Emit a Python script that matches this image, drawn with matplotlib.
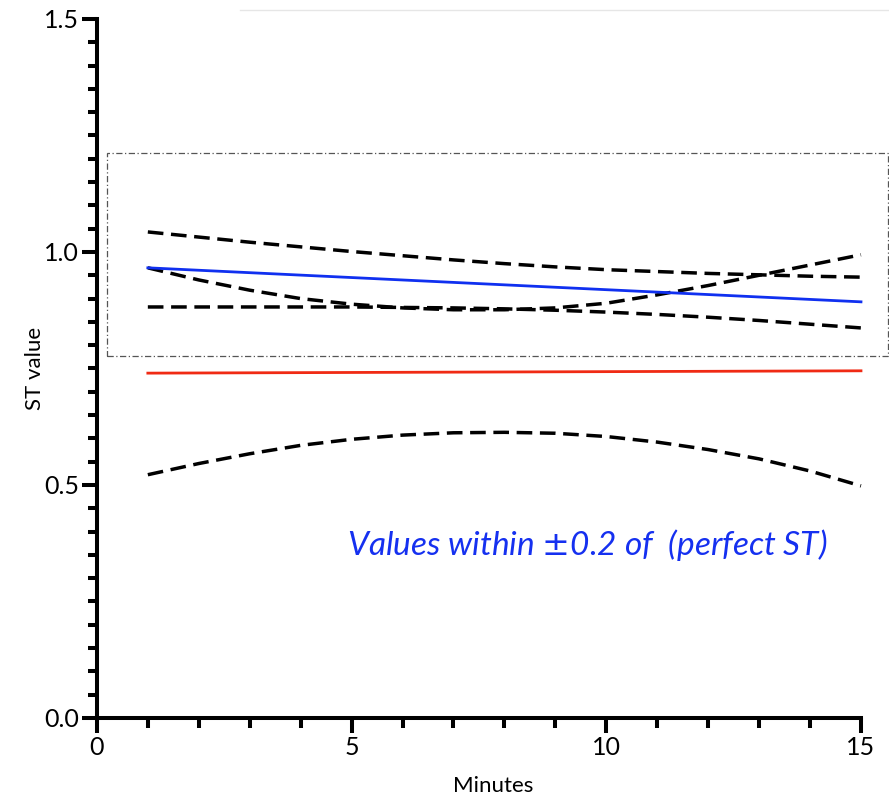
import matplotlib
matplotlib.use('Agg')
import matplotlib.pyplot as plt
from matplotlib.patches import Rectangle
from matplotlib.lines import Line2D
from matplotlib.ticker import MultipleLocator

minutes = [1, 2, 3, 4, 5, 6, 7, 8, 9, 10, 11, 12, 13, 14, 15]

# dashed curves
upper_band = [1.043, 1.032, 1.021, 1.011, 1.001, 0.992, 0.983, 0.975,
              0.968, 0.962, 0.958, 0.954, 0.951, 0.948, 0.946]
u_curve = [0.966, 0.940, 0.918, 0.900, 0.888, 0.880, 0.876, 0.876,
           0.880, 0.890, 0.908, 0.928, 0.950, 0.972, 0.994]
lower_band = [0.882, 0.882, 0.882, 0.882, 0.882, 0.881, 0.880, 0.878,
              0.875, 0.871, 0.866, 0.860, 0.853, 0.845, 0.837]
hump = [0.522, 0.546, 0.567, 0.585, 0.598, 0.607, 0.612, 0.613,
        0.611, 0.604, 0.592, 0.576, 0.556, 0.530, 0.498]

# straight lines (end points)
line_x = [1, 15]
blue_y = [0.966, 0.893]
red_y = [0.740, 0.745]

# the "within +-0.2" box
box_x = [0.2, 15.54]
box_y = [0.777, 1.212]

plt.rcParams['font.family'] = ['Lato', 'DejaVu Sans']

fig = plt.figure(figsize=(8.89, 7.98), dpi=100)
ax = fig.add_axes([0.109, 0.1003, 0.891, 0.8759])

dash = (0, (4.5, 2.2))
for ys in (upper_band, u_curve, lower_band, hump):
    ax.plot(minutes, ys, color='black', lw=2.5, linestyle=dash)

ax.plot(line_x, blue_y, color='#1030f0', lw=2)
ax.plot(line_x, red_y, color='#f02a14', lw=2)

ax.add_patch(Rectangle((box_x[0], box_y[0]), box_x[1] - box_x[0],
                       box_y[1] - box_y[0], fill=False, edgecolor='#555555',
                       lw=0.9, linestyle=(0, (5, 2, 1, 2)), clip_on=False))

ax.text(9.62, 0.371, 'Values within $\\pm$0.2 of  (perfect ST)',
        color='#1530f0', fontsize=24, style='italic', ha='center', va='center')

ax.set_xlim(0, 15.55)
ax.set_ylim(0, 1.5)
ax.spines['top'].set_visible(False)
ax.spines['right'].set_visible(False)
ax.spines['bottom'].set_bounds(0, 15)
for s in ('left', 'bottom'):
    ax.spines[s].set_linewidth(2.9)

ax.xaxis.set_major_locator(MultipleLocator(5))
ax.xaxis.set_minor_locator(MultipleLocator(1))
ax.yaxis.set_major_locator(MultipleLocator(0.5))
ax.yaxis.set_minor_locator(MultipleLocator(0.05))
ax.yaxis.set_major_formatter(matplotlib.ticker.FormatStrFormatter('%.1f'))

ax.tick_params(which='major', length=11, width=2.9, labelsize=18, pad=2)
ax.tick_params(which='minor', length=6.5, width=2.9)
ax.tick_params(axis='x', which='minor', length=7)

ax.set_xlabel('Minutes', fontsize=16, labelpad=12)
ax.set_ylabel('ST value', fontsize=16)
ax.yaxis.set_label_coords(-0.066, 0.5)

fig.add_artist(Line2D([0.27, 1.0], [0.987, 0.987], color='#e6e6e6', lw=1))

fig.savefig('out.png', dpi=100)
